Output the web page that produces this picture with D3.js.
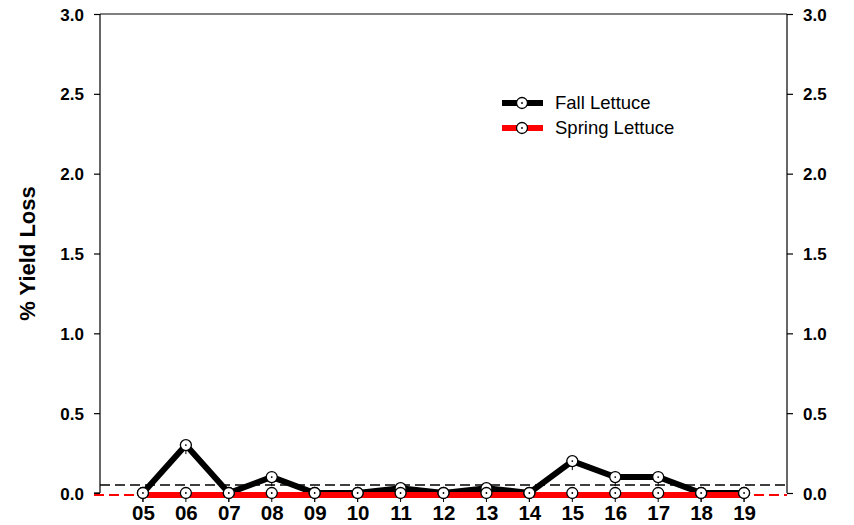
<!DOCTYPE html>
<html><head><meta charset="utf-8">
<script src="https://cdn.jsdelivr.net/npm/d3@7"></script>
<style>body{margin:0;background:#fff}svg{display:block}</style>
</head><body>
<svg id="c" width="854" height="525"></svg>
<script>
const years = [5,6,7,8,9,10,11,12,13,14,15,16,17,18,19];
const yearLabels = ["05","06","07","08","09","10","11","12","13","14","15","16","17","18","19"];
const fallLettuce = [0,0.3,0,0.1,0,0,0.03,0,0.03,0,0.2,0.1,0.1,0,0];
const springLettuce = [0,0,0,0,0,0,0,0,0,0,0,0,0,0,0];
const yTicks = [0,0.5,1.0,1.5,2.0,2.5,3.0];
const thresholdLine = 0.05;
const seriesNames = ["Fall Lettuce","Spring Lettuce"];
const seriesColors = ["#000000","#ff0000"];

const svg = d3.select("#c");
const L=100, R=787, T=14, B=493;
const x = d3.scaleLinear().domain([4,20]).range([L,R]);
const y = d3.scaleLinear().domain([0,3]).range([B,T]);
const font = "Arial, 'Liberation Sans', sans-serif";

// frame
svg.append("line").attr("x1",L).attr("x2",R).attr("y1",T).attr("y2",T).attr("stroke","#000").attr("stroke-width",1.2);
const yl = svg.append("g").attr("transform",`translate(${L},0)`)
  .call(d3.axisLeft(y).tickValues(yTicks).tickFormat(d3.format(".1f")).tickSize(6).tickPadding(10));
const yr = svg.append("g").attr("transform",`translate(${R},0)`)
  .call(d3.axisRight(y).tickValues(yTicks).tickFormat(d3.format(".1f")).tickSize(6).tickPadding(10));
[yl,yr].forEach(g=>{
  g.select(".domain").attr("d",`M0,${T}V${B}`).attr("stroke-width",1.2);
  g.selectAll(".tick line").attr("stroke-width",1.2);
  g.selectAll("text").attr("font-family",font).attr("font-size",17).attr("font-weight","bold").attr("fill","#000").attr("dy","0.36em");
});
// x labels
const xa = svg.append("g").attr("transform",`translate(0,${B})`)
  .call(d3.axisBottom(x).tickValues(years).tickFormat((d,i)=>yearLabels[i]).tickSize(0).tickPadding(12));
xa.select(".domain").remove();
xa.selectAll("text").attr("font-family",font).attr("font-size",20.5).attr("font-weight","bold").attr("fill","#000");

// y title
svg.append("text").attr("transform",`translate(35,${(T+B)/2}) rotate(-90)`)
  .attr("text-anchor","middle").attr("font-family",font).attr("font-size",22).attr("font-weight","bold").text("% Yield Loss");

// reference lines
svg.append("line").attr("x1",L).attr("x2",R).attr("y1",y(thresholdLine)).attr("y2",y(thresholdLine))
  .attr("stroke","#000").attr("stroke-width",1.5).attr("stroke-dasharray","10,5");
svg.append("line").attr("x1",L-6).attr("x2",L).attr("y1",B).attr("y2",B).attr("stroke","#000").attr("stroke-width",1.2);

const line = d3.line().x((d,i)=>x(years[i])).y(d=>y(d));

function marker(g, cx, cy){
  g.append("line").attr("x1",cx).attr("x2",cx).attr("y1",cy+4).attr("y2",cy+9).attr("stroke","#000").attr("stroke-width",1);
  g.append("circle").attr("cx",cx).attr("cy",cy).attr("r",5.5).attr("fill","#fff").attr("stroke","#000").attr("stroke-width",1.3);
  g.append("circle").attr("cx",cx).attr("cy",cy).attr("r",0.9).attr("fill","#000");
}

// fall line
svg.append("path").datum(fallLettuce).attr("d",line).attr("fill","none").attr("stroke",seriesColors[0]).attr("stroke-width",6).attr("stroke-linejoin","miter");
// spring red dashed baseline
svg.append("line").attr("x1",L-6).attr("x2",R).attr("y1",y(0)+2).attr("y2",y(0)+2)
  .attr("stroke",seriesColors[1]).attr("stroke-width",2).attr("stroke-dasharray","10,5");
svg.append("path").datum(springLettuce).attr("d",line).attr("fill","none").attr("stroke",seriesColors[1]).attr("stroke-width",6).attr("transform","translate(0,2)");

const mg = svg.append("g");
fallLettuce.forEach((v,i)=>marker(mg, x(years[i]), y(v)));
springLettuce.forEach((v,i)=>marker(mg, x(years[i]), y(v)));

// legend
const lg = svg.append("g");
seriesNames.forEach((n,i)=>{
  const ly = 103 + i*25;
  lg.append("line").attr("x1",502).attr("x2",543).attr("y1",ly).attr("y2",ly).attr("stroke",seriesColors[i]).attr("stroke-width",6);
  lg.append("circle").attr("cx",522).attr("cy",ly).attr("r",5.5).attr("fill","#fff").attr("stroke","#000").attr("stroke-width",1.3);
  lg.append("circle").attr("cx",522).attr("cy",ly).attr("r",0.9).attr("fill","#000");
  lg.append("text").attr("x",555).attr("y",ly+6).attr("font-family",font).attr("font-size",18.5).text(n);
});
</script>
</body></html>
